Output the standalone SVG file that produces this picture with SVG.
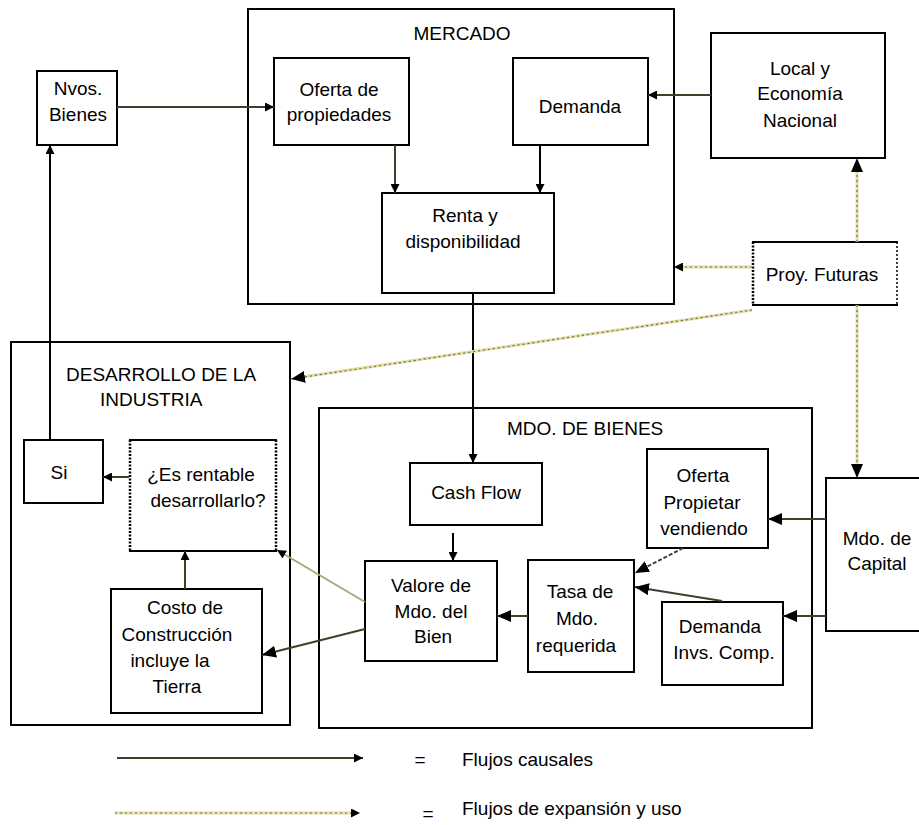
<svg xmlns="http://www.w3.org/2000/svg" width="919" height="825" viewBox="0 0 919 825">
<style>
.box{fill:#fff;stroke:#000;stroke-width:2}
.cont{fill:none;stroke:#000;stroke-width:2}
text{font-family:"Liberation Sans",Arial,sans-serif;font-size:19px;fill:#000}
.c{text-anchor:middle}
.causal{fill:none;stroke:#3f3f2a;stroke-width:2}
.blk{fill:none;stroke:#000;stroke-width:2}
.light{fill:none;stroke:#a8a878;stroke-width:2}
.dashd{fill:none;stroke:#3f3f2a;stroke-width:2;stroke-dasharray:4,2}
.exbase{fill:none;stroke:#e2dea6;stroke-width:3}
.exdot{fill:none;stroke:#6e6c4e;stroke-width:1.2;stroke-dasharray:2,3}
.dotedge{fill:none;stroke:#000;stroke-width:2.5;stroke-dasharray:2,1.5}
.dotedge2{fill:none;stroke:#000;stroke-width:1.5;stroke-dasharray:2,2}
</style>
<defs>
<marker id="s" markerUnits="userSpaceOnUse" markerWidth="9" markerHeight="9" refX="9" refY="4.5" orient="auto"><path d="M0,0L9,4.5L0,9z" fill="#000"/></marker>
<marker id="l" markerUnits="userSpaceOnUse" markerWidth="14" markerHeight="12" refX="14" refY="6" orient="auto"><path d="M0,0L14,6L0,12z" fill="#000"/></marker>
</defs>
<rect width="919" height="825" fill="#fff"/>

<g id="mercado"><rect class="cont" x="248" y="9" width="426" height="295"/><text x="462" y="40" class="c">MERCADO</text></g>
<g id="desarrollo"><rect class="cont" x="11" y="342" width="279" height="383"/><text x="66" y="381">DESARROLLO DE LA</text><text x="100" y="406">INDUSTRIA</text></g>
<g id="mdo-bienes"><rect class="cont" x="319" y="408" width="493" height="320"/><text x="507" y="435">MDO. DE BIENES</text></g>

<g id="nvos-bienes"><rect class="box" x="37" y="71" width="80" height="74"/><text x="78" y="95" class="c">Nvos.</text><text x="78" y="121" class="c">Bienes</text></g>
<g id="oferta-propiedades"><rect class="box" x="274" y="58" width="135" height="87"/><text x="339" y="96" class="c">Oferta de</text><text x="339" y="121" class="c">propiedades</text></g>
<g id="demanda"><rect class="box" x="513" y="58" width="135" height="87"/><text x="580" y="113" class="c">Demanda</text></g>
<g id="renta"><rect class="box" x="382" y="193" width="172" height="100"/><text x="465" y="222" class="c">Renta y</text><text x="463" y="248" class="c">disponibilidad</text></g>
<g id="local-economia"><rect class="box" x="711" y="33" width="174" height="125"/><text x="800" y="75" class="c">Local y</text><text x="800" y="100" class="c">Economía</text><text x="800" y="127" class="c">Nacional</text></g>
<g id="proy-futuras"><rect x="752" y="242" width="146" height="63" fill="#fff"/><line class="blk" x1="752" y1="242" x2="898" y2="242"/><line class="blk" x1="752" y1="305" x2="898" y2="305"/><line class="dotedge" x1="753" y1="242" x2="753" y2="305"/><line class="dotedge2" x1="897" y1="242" x2="897" y2="305"/><text x="822" y="281" class="c">Proy. Futuras</text></g>
<g id="si"><rect class="box" x="24" y="440" width="79" height="63"/><text x="59" y="479" class="c">Si</text></g>
<g id="es-rentable"><rect x="129" y="440" width="148" height="111" fill="#fff"/><line class="blk" x1="129" y1="440" x2="277" y2="440"/><line class="blk" x1="129" y1="551" x2="277" y2="551"/><line class="dotedge" x1="130" y1="440" x2="130" y2="551"/><line class="dotedge" x1="276" y1="440" x2="276" y2="551"/><text x="201" y="481" class="c">¿Es rentable</text><text x="208" y="507" class="c">desarrollarlo?</text></g>
<g id="costo"><rect class="box" x="111" y="589" width="151" height="124"/><text x="185" y="614" class="c">Costo de</text><text x="177" y="641" class="c">Construcción</text><text x="170" y="667" class="c">incluye la</text><text x="177" y="693" class="c">Tierra</text></g>
<g id="cash-flow"><rect class="box" x="410" y="463" width="132" height="62"/><text x="476" y="499" class="c">Cash Flow</text></g>
<g id="valore"><rect class="box" x="365" y="561" width="132" height="100"/><text x="431" y="592" class="c">Valore de</text><text x="431" y="618" class="c">Mdo. del</text><text x="433" y="643" class="c">Bien</text></g>
<g id="oferta-propietar"><rect class="box" x="647" y="449" width="121" height="99"/><text x="703" y="482" class="c">Oferta</text><text x="702" y="509" class="c">Propietar</text><text x="704" y="535" class="c">vendiendo</text></g>
<g id="tasa"><rect class="box" x="528" y="560" width="106" height="112"/><text x="580" y="598" class="c">Tasa de</text><text x="577" y="625" class="c">Mdo.</text><text x="576" y="652" class="c">requerida</text></g>
<g id="demanda-invs"><rect class="box" x="662" y="602" width="121" height="83"/><text x="720" y="633" class="c">Demanda</text><text x="724" y="659" class="c">Invs. Comp.</text></g>
<g id="mdo-capital"><rect class="box" x="826" y="478" width="100" height="153"/><text x="877" y="545" class="c">Mdo. de</text><text x="877" y="570" class="c">Capital</text></g>

<g id="connectors">
<line class="causal" x1="117" y1="107" x2="274" y2="107" marker-end="url(#s)"/>
<line class="causal" x1="395" y1="145" x2="395" y2="193" marker-end="url(#s)"/>
<line class="blk" x1="540" y1="145" x2="540" y2="193" marker-end="url(#s)"/>
<line class="causal" x1="711" y1="95" x2="648" y2="95" marker-end="url(#s)"/>
<line class="blk" x1="473" y1="293" x2="473" y2="463" marker-end="url(#s)"/>
<line class="blk" x1="50" y1="440" x2="50" y2="145" marker-end="url(#s)"/>
<line class="causal" x1="129" y1="477" x2="103" y2="477" marker-end="url(#s)"/>
<line class="causal" x1="185" y1="589" x2="185" y2="551" marker-end="url(#s)"/>
<line class="light" x1="365" y1="602" x2="277" y2="550" marker-end="url(#s)"/>
<line class="causal" x1="365" y1="629" x2="262" y2="655" marker-end="url(#l)"/>
<line class="blk" x1="453" y1="533" x2="453" y2="561" marker-end="url(#s)"/>
<line class="causal" x1="528" y1="616" x2="497" y2="616" marker-end="url(#l)"/>
<line class="dashd" x1="683" y1="548" x2="635" y2="573" marker-end="url(#l)"/>
<line class="causal" x1="722" y1="601" x2="635" y2="587" marker-end="url(#l)"/>
<line class="causal" x1="826" y1="519" x2="768" y2="519" marker-end="url(#l)"/>
<line class="causal" x1="826" y1="616" x2="783" y2="616" marker-end="url(#l)"/>
<line class="exbase" x1="857" y1="242" x2="857" y2="168"/><line class="exdot" x1="857" y1="242" x2="857" y2="158" marker-end="url(#l)"/>
<line class="exbase" x1="752" y1="267" x2="680" y2="267"/><line class="exdot" x1="752" y1="267" x2="674" y2="267" marker-end="url(#s)"/>
<line class="exbase" x1="752" y1="310" x2="302" y2="377"/><line class="exdot" x1="752" y1="310" x2="291" y2="379" marker-end="url(#l)"/>
<line class="exbase" x1="857" y1="305" x2="857" y2="466"/><line class="exdot" x1="857" y1="305" x2="857" y2="478" marker-end="url(#l)"/>
</g>

<g id="legend">
<line class="causal" x1="117" y1="758" x2="363" y2="758" marker-end="url(#s)"/>
<text x="420" y="766" class="c">=</text>
<text x="462" y="766">Flujos causales</text>
<line class="exbase" x1="115" y1="813" x2="352" y2="813"/><line class="exdot" x1="115" y1="813" x2="360" y2="813" marker-end="url(#s)"/>
<text x="428" y="820" class="c">=</text>
<text x="462" y="815">Flujos de expansión y uso</text>
</g>
</svg>
